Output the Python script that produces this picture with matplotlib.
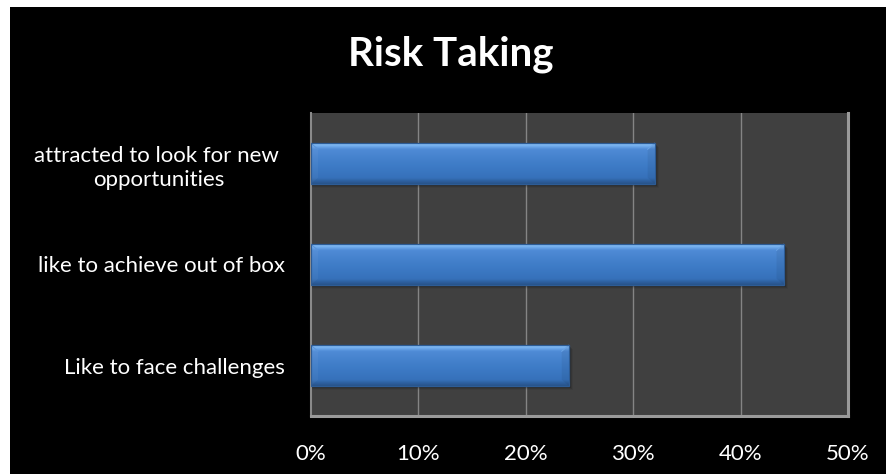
import numpy as np
import matplotlib
matplotlib.use("Agg")
import matplotlib.pyplot as plt
from matplotlib.patches import Polygon, Rectangle
from matplotlib.colors import LinearSegmentedColormap

# Chart data
categories = ["attracted to look for new \nopportunities",
              "like to achieve out of box",
              "Like to face challenges"]
values = [32, 44, 24]  # percent
x_ticks = [0, 10, 20, 30, 40, 50]
x_tick_labels = ["0%", "10%", "20%", "30%", "40%", "50%"]
title = "Risk Taking"

plt.rcParams["font.family"] = ["Lato", "DejaVu Sans"]

W, H, DPI = 886, 474, 100
fig = plt.figure(figsize=(W / DPI, H / DPI), dpi=DPI, facecolor="white")

# black chart area with a thin white frame on the left/top
fig.patches.append(Rectangle((10 / W, 0), 1 - 10 / W, 1 - 7 / H,
                             transform=fig.transFigure, facecolor="black",
                             edgecolor="none", zorder=-10))

ax = fig.add_axes([311 / W, 1 - 416 / H, (848 - 311) / W, (416 - 113) / H])
ax.set_facecolor("#404040")

n = len(categories)
ax.set_xlim(0, 50)
ax.set_ylim(n - 0.5, -0.5)

# vertical gridlines
for t in x_ticks[1:-1]:
    ax.axvline(t, color="#858585", lw=1.0, zorder=1)

bar_h = 0.4
grad = LinearSegmentedColormap.from_list(
    "bevel",
    [(0.0, "#8fc6f6"), (0.07, "#72adee"), (0.15, "#4f8bd6"),
     (0.5, "#3f7dc8"), (0.85, "#3671ba"), (0.92, "#2e62a2"),
     (1.0, "#285288")])
gimg = np.linspace(0, 1, 256).reshape(-1, 1)

px_x = 50 / (848 - 311)          # data units per pixel, x
px_y = 3 / (416 - 113)           # data units per pixel, y
bev = 7 * px_x
bev_y = 6 * px_y

for i, v in enumerate(values):
    y0, y1 = i - bar_h / 2, i + bar_h / 2
    # soft drop shadow
    for k, a in enumerate([0.16, 0.10, 0.06]):
        off = (k + 2)
        ax.add_patch(Rectangle((0, y0 + off * px_y), v + off * px_x, bar_h,
                               facecolor="black", alpha=a, edgecolor="none",
                               zorder=2))
    ax.imshow(gimg, cmap=grad, aspect="auto", extent=(0, v, y1, y0),
              zorder=3, interpolation="bilinear")
    # end bevels
    ax.add_patch(Polygon([(0, y0), (bev, y0 + bev_y), (bev, y1 - bev_y), (0, y1)],
                         closed=True, facecolor="white", alpha=0.04,
                         edgecolor="none", zorder=4))
    ax.add_patch(Polygon([(v, y0), (v - bev, y0 + bev_y), (v - bev, y1 - bev_y), (v, y1)],
                         closed=True, facecolor="black", alpha=0.06,
                         edgecolor="none", zorder=4))
    ax.plot([0, bev], [y0, y0 + bev_y], color="#5a94da", lw=0.7, zorder=5)
    ax.plot([v, v - bev], [y0, y0 + bev_y], color="#6aa4e6", lw=0.7, zorder=5)
    ax.add_patch(Rectangle((0, y0), v, bar_h, facecolor="none",
                           edgecolor="#2d5c96", lw=0.9, zorder=6))

ax.set_xticks(x_ticks)
ax.set_xticklabels(x_tick_labels, color="white", fontsize=16)
ax.set_yticks(range(n))
ax.set_yticklabels(categories, color="white", fontsize=16,
                   multialignment="center", linespacing=1.3)
ax.tick_params(axis="x", length=0, pad=20)
ax.tick_params(axis="y", length=0, pad=19)

ax.spines["top"].set_visible(False)
ax.spines["left"].set_color("#8a8a8a")
ax.spines["left"].set_linewidth(1.5)
ax.spines["right"].set_color("#9a9a9a")
ax.spines["right"].set_linewidth(2.2)
ax.spines["bottom"].set_color("#9a9a9a")
ax.spines["bottom"].set_linewidth(2.2)

fig.text(451 / W, 1 - 54 / H, title, color="white", fontsize=29,
         fontweight="bold", ha="center", va="center")

fig.savefig("out.png", dpi=DPI, facecolor=fig.get_facecolor())
